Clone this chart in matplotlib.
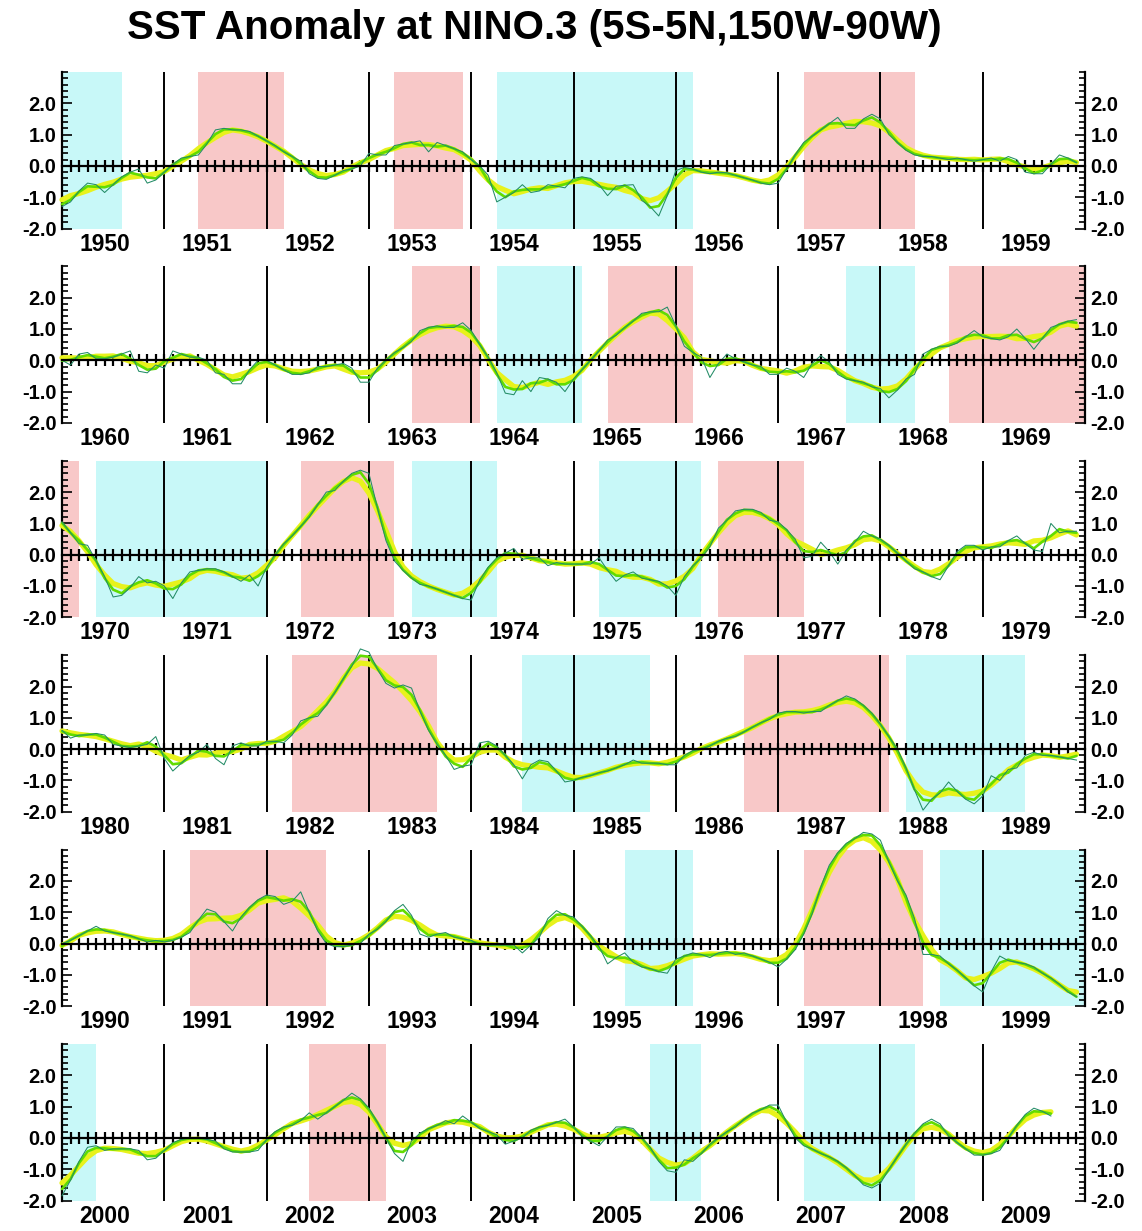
import numpy as np
import pandas as pd
import matplotlib
matplotlib.use("Agg")
import matplotlib.pyplot as plt
from matplotlib.ticker import MultipleLocator, FixedLocator, FormatStrFormatter
import matplotlib.transforms as mtransforms

plt.rcParams['font.family'] = ['Liberation Sans', 'DejaVu Sans']
plt.rcParams['font.weight'] = 'bold'
plt.rcParams['axes.unicode_minus'] = False

TITLE = "SST Anomaly at NINO.3 (5S-5N,150W-90W)"
decade_starts = [1950, 1960, 1970, 1980, 1990, 2000]

# Monthly NINO.3 SST anomalies (deg C), Jan..Dec per year
sst_1950s = [-1.30, -1.15, -0.80, -0.55, -0.60, -0.85, -0.60, -0.35, -0.20, -0.10, -0.55, -0.45,
             -0.20, 0.05, 0.25, 0.30, 0.35, 0.70, 1.15, 1.20, 1.15, 1.15, 1.10, 0.95,
             0.80, 0.65, 0.45, 0.30, 0.15, -0.25, -0.40, -0.43, -0.30, -0.15, -0.10, 0.00,
             0.40, 0.35, 0.35, 0.65, 0.70, 0.75, 0.80, 0.45, 0.75, 0.65, 0.55, 0.45,
             0.20, 0.00, -0.30, -1.15, -1.00, -0.85, -0.60, -0.85, -0.80, -0.60, -0.65, -0.70,
             -0.40, -0.35, -0.40, -0.60, -0.95, -0.65, -0.62, -0.60, -1.10, -1.30, -1.60, -0.95,
             -0.15, -0.05, -0.10, -0.20, -0.25, -0.20, -0.22, -0.30, -0.38, -0.45, -0.55, -0.60,
             -0.55, -0.10, 0.35, 0.75, 0.95, 1.15, 1.35, 1.55, 1.20, 1.20, 1.50, 1.65,
             1.50, 1.00, 0.75, 0.50, 0.35, 0.30, 0.30, 0.25, 0.20, 0.25, 0.20, 0.15,
             0.20, 0.25, 0.15, 0.30, 0.20, -0.20, -0.25, -0.25, 0.05, 0.35, 0.25, 0.10]
sst_1960s = [0.00, -0.15, 0.20, 0.25, 0.05, 0.05, 0.10, 0.20, 0.30, -0.35, -0.40, -0.15,
             -0.25, 0.30, 0.20, 0.10, 0.10, 0.00, -0.40, -0.45, -0.75, -0.75, -0.30, 0.00,
             0.00, -0.15, -0.30, -0.45, -0.45, -0.40, -0.20, -0.20, -0.15, -0.10, -0.25, -0.70,
             -0.70, -0.25, 0.00, 0.25, 0.40, 0.60, 0.95, 1.05, 1.10, 1.05, 1.05, 1.20,
             0.95, 0.50, 0.10, -0.40, -1.05, -1.10, -0.65, -1.00, -0.55, -0.60, -0.70, -1.00,
             -0.60, -0.30, 0.00, 0.30, 0.65, 0.80, 1.05, 1.25, 1.50, 1.55, 1.55, 1.70,
             1.10, 0.45, 0.25, 0.10, -0.55, -0.10, 0.20, 0.05, -0.05, -0.15, -0.20, -0.45,
             -0.45, -0.25, -0.35, -0.55, -0.10, 0.15, -0.05, -0.45, -0.60, -0.65, -0.70, -0.85,
             -0.90, -1.20, -0.95, -0.60, -0.45, 0.20, 0.35, 0.45, 0.45, 0.55, 0.75, 0.95,
             0.75, 0.70, 0.65, 0.75, 1.00, 0.70, 0.35, 0.70, 1.05, 1.15, 1.25, 1.30]
sst_1970s = [1.05, 0.70, 0.35, 0.30, -0.20, -0.70, -1.35, -1.30, -1.05, -0.70, -0.90, -0.85,
             -1.00, -1.40, -0.90, -0.55, -0.50, -0.45, -0.45, -0.55, -0.70, -0.85, -0.65, -1.00,
             -0.40, 0.00, 0.35, 0.60, 0.90, 1.20, 1.60, 2.00, 2.05, 2.35, 2.60, 2.70,
             2.60, 1.50, 0.45, -0.20, -0.50, -0.75, -0.95, -1.00, -1.10, -1.20, -1.30, -1.40,
             -1.45, -0.80, -0.40, -0.10, 0.05, 0.20, -0.15, -0.10, -0.10, -0.35, -0.25, -0.30,
             -0.30, -0.30, -0.30, -0.10, -0.50, -0.85, -0.65, -0.55, -0.75, -0.80, -0.85, -1.00,
             -1.30, -0.70, -0.35, -0.10, 0.25, 0.85, 1.10, 1.40, 1.45, 1.45, 1.35, 1.10,
             1.05, 0.80, 0.50, -0.10, -0.05, 0.40, 0.10, -0.30, 0.15, 0.40, 0.75, 0.60,
             0.50, 0.30, 0.05, -0.20, -0.45, -0.55, -0.70, -0.80, -0.35, 0.10, 0.30, 0.30,
             0.15, 0.25, 0.25, 0.45, 0.60, 0.35, 0.15, 0.10, 1.00, 0.70, 0.75, 0.75]
sst_1980s = [0.60, 0.35, 0.45, 0.45, 0.50, 0.45, 0.15, 0.10, 0.05, 0.10, 0.15, 0.40,
             -0.30, -0.70, -0.45, -0.20, -0.10, 0.15, -0.30, -0.50, 0.10, 0.20, 0.10, 0.10,
             0.25, 0.25, 0.20, 0.45, 0.90, 1.00, 1.05, 1.40, 1.80, 2.25, 2.65, 3.20,
             3.10, 2.55, 2.10, 1.95, 2.05, 1.95, 1.20, 0.60, 0.15, -0.20, -0.65, -0.55,
             -0.50, 0.20, 0.25, 0.10, -0.20, -0.50, -0.95, -0.50, -0.35, -0.40, -0.70, -1.05,
             -1.00, -0.90, -0.85, -0.75, -0.70, -0.60, -0.50, -0.35, -0.45, -0.45, -0.45, -0.50,
             -0.50, -0.20, -0.05, 0.00, 0.10, 0.25, 0.35, 0.40, 0.55, 0.70, 0.85, 0.95,
             1.15, 1.20, 1.20, 1.15, 1.20, 1.20, 1.40, 1.55, 1.70, 1.60, 1.40, 1.15,
             0.80, 0.40, 0.00, -0.60, -1.30, -1.95, -1.60, -1.40, -1.05, -1.35, -1.60, -1.75,
             -1.50, -0.85, -1.00, -0.65, -0.60, -0.20, -0.10, -0.20, -0.20, -0.25, -0.30, -0.35]
sst_1990s = [0.00, 0.10, 0.25, 0.40, 0.55, 0.40, 0.35, 0.30, 0.25, 0.15, 0.05, 0.10,
             0.05, 0.10, 0.20, 0.35, 0.75, 1.10, 1.00, 0.70, 0.40, 0.85, 1.15, 1.40,
             1.55, 1.50, 1.25, 1.35, 1.65, 1.00, 0.40, 0.00, -0.10, -0.10, -0.05, 0.00,
             0.30, 0.45, 0.70, 1.05, 1.25, 0.90, 0.30, 0.20, 0.30, 0.35, 0.20, 0.15,
             0.10, -0.05, -0.05, -0.05, -0.05, -0.05, -0.30, -0.05, 0.20, 0.80, 1.05, 0.90,
             0.85, 0.55, 0.25, -0.10, -0.65, -0.45, -0.30, -0.60, -0.75, -0.80, -0.90, -0.95,
             -0.50, -0.40, -0.30, -0.35, -0.45, -0.30, -0.25, -0.35, -0.30, -0.40, -0.50, -0.60,
             -0.75, -0.50, -0.20, 0.30, 0.95, 1.80, 2.50, 2.90, 3.20, 3.35, 3.55, 3.50,
             3.30, 2.60, 2.00, 1.55, 0.80, -0.35, -0.35, -0.40, -0.65, -0.85, -1.10, -1.35,
             -1.55, -0.90, -0.40, -0.55, -0.60, -0.65, -0.75, -0.95, -1.10, -1.30, -1.55, -1.70]
sst_2000s = [-1.85, -1.35, -0.75, -0.30, -0.25, -0.40, -0.35, -0.35, -0.35, -0.40, -0.70, -0.65,
             -0.40, -0.15, -0.05, 0.00, 0.00, -0.05, -0.10, -0.35, -0.45, -0.45, -0.45, -0.40,
             -0.05, 0.20, 0.35, 0.40, 0.55, 0.80, 0.60, 0.80, 1.00, 1.20, 1.43, 1.25,
             0.95, 0.50, 0.00, -0.50, -0.75, -0.10, 0.15, 0.30, 0.40, 0.55, 0.45, 0.70,
             0.50, 0.30, 0.20, 0.10, -0.20, -0.10, 0.00, 0.25, 0.35, 0.40, 0.50, 0.60,
             0.35, 0.05, -0.10, -0.25, 0.05, 0.35, 0.35, 0.30, 0.00, -0.30, -0.75, -1.05,
             -1.10, -0.70, -0.75, -0.50, -0.20, 0.00, 0.20, 0.35, 0.60, 0.80, 0.90, 1.05,
             1.05, 0.50, 0.00, -0.25, -0.35, -0.50, -0.60, -0.75, -0.95, -1.20, -1.50, -1.60,
             -1.45, -1.00, -0.60, -0.20, 0.15, 0.45, 0.60, 0.45, 0.05, -0.15, -0.35, -0.55,
             -0.55, -0.50, -0.40, 0.00, 0.40, 0.75, 0.95, 0.85, 0.70, np.nan, np.nan, np.nan]

# El Nino (warm, pink) and La Nina (cold, cyan) periods: start / end month
warm_start = ['1951-05', '1953-04', '1957-04', '1963-06', '1965-05', '1968-09', '1972-05',
              '1976-06', '1982-04', '1986-09', '1991-04', '1997-04', '2002-06']
warm_end   = ['1952-03', '1953-12', '1958-05', '1964-02', '1966-03', '1970-03', '1973-04',
              '1977-04', '1983-09', '1988-02', '1992-08', '1998-06', '2003-03']
cold_start = ['1950-01', '1954-04', '1964-04', '1967-09', '1970-05', '1973-06', '1975-04',
              '1984-07', '1988-04', '1995-07', '1998-08', '2005-10', '2007-04']
cold_end   = ['1950-08', '1956-03', '1965-02', '1968-05', '1972-01', '1974-04', '1976-04',
              '1985-10', '1989-06', '1996-03', '2000-05', '2006-04', '2008-05']

PINK = '#f8c8c8'
CYAN = '#c8f8f8'
YELLOW = '#e8f21c'
GREEN = '#62dc00'
RAW = '#238c66'


def ym(s):
    y, m = s.split('-')
    return int(y) + (int(m) - 1) / 12.0


full = np.array(sst_1950s + sst_1960s + sst_1970s + sst_1980s + sst_1990s + sst_2000s, dtype=float)
ser = pd.Series(full)
sm3 = ser.rolling(3, center=True, min_periods=2).mean().to_numpy()
sm5 = ser.rolling(5, center=True, min_periods=3).mean().to_numpy()
sm3[np.isnan(full)] = np.nan
sm5[np.isnan(full)] = np.nan
xs = 1950 + np.arange(len(full)) / 12.0

W, H = 1142, 1231
fig = plt.figure(figsize=(W / 100, H / 100), dpi=100)
fig.text(0.468, 1 - 28 / H, TITLE, ha='center', va='center', fontsize=29, fontweight='bold')

left_px, right_px = 62, 1085
for i, d in enumerate(decade_starts):
    top_px = 72 + 194.4 * i
    h_px = 156.5
    ax = fig.add_axes([left_px / W, 1 - (top_px + h_px) / H, (right_px - left_px) / W, h_px / H])
    ax.set_xlim(d, d + 10)
    ax.set_ylim(-2, 3)
    for s, e in zip(warm_start, warm_end):
        ax.axvspan(ym(s), ym(e), color=PINK, lw=0, zorder=0)
    for s, e in zip(cold_start, cold_end):
        ax.axvspan(ym(s), ym(e), color=CYAN, lw=0, zorder=0)
    for yr in range(d + 1, d + 10):
        ax.axvline(yr, color='black', lw=1.4, zorder=2)
    sl = slice(120 * i, 120 * (i + 1))
    ax.plot(xs[sl], sm5[sl], color=YELLOW, lw=3.8, zorder=3, clip_on=False, solid_capstyle='round')
    ax.plot(xs[sl], sm3[sl], color=GREEN, lw=1.9, zorder=4, clip_on=False, solid_capstyle='round')
    ax.plot(xs[sl], full[sl], color=RAW, lw=0.75, zorder=5, clip_on=False)

    ax.spines['top'].set_visible(False)
    ax.spines['bottom'].set_position(('data', 0))
    ax.spines['bottom'].set_zorder(6)
    for sp in ['bottom', 'left', 'right']:
        ax.spines[sp].set_linewidth(1.6)
    ax.set_xticks([])
    ax.xaxis.set_minor_locator(FixedLocator(d + np.arange(1, 120) / 12.0))
    ax.tick_params(axis='x', which='minor', direction='inout', length=9, width=1.6,
                   bottom=True, labelbottom=False)
    ax.set_yticks([-2, -1, 0, 1, 2])
    ax.yaxis.set_major_formatter(FormatStrFormatter('%.1f'))
    ax.yaxis.set_minor_locator(MultipleLocator(0.2))
    ax.tick_params(axis='y', which='both', direction='in', left=True, right=True,
                   labelleft=True, labelright=True, labelsize=14.5, width=1.2)
    ax.tick_params(axis='y', which='major', length=7, pad=4)
    ax.tick_params(axis='y', which='minor', length=4)
    ax.patch.set_alpha(0)
    trans = mtransforms.blended_transform_factory(ax.transData, ax.transAxes)
    for k in range(10):
        ax.text(d + k + 0.42, -0.1, str(d + k), transform=trans, ha='center', va='center',
                fontsize=16.5, fontweight='bold')

fig.savefig('out.png', dpi=100)
